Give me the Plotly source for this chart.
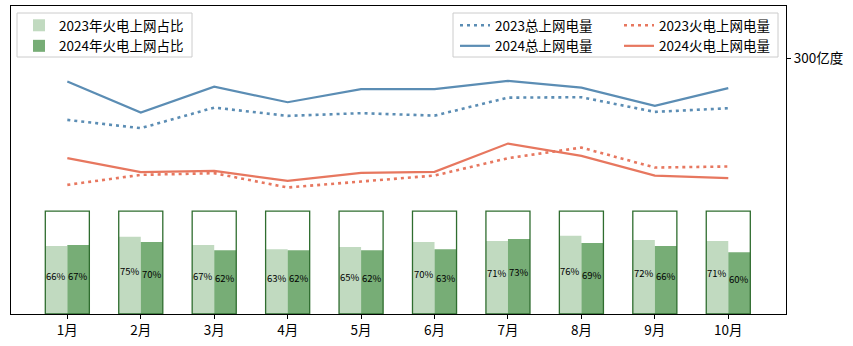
import plotly.graph_objects as go

months = ["1月", "2月", "3月", "4月", "5月", "6月", "7月", "8月", "9月", "10月"]
share_2023 = [66, 75, 67, 63, 65, 70, 71, 76, 72, 71]
share_2024 = [67, 70, 62, 62, 62, 63, 73, 69, 66, 60]
total_2023 = [227.7, 218.0, 242.1, 232.4, 235.6, 232.7, 253.8, 254.3, 237.1, 241.4]
total_2024 = [272.6, 236.3, 266.7, 248.4, 263.7, 263.7, 273.4, 265.6, 244.1, 264.9]
thermal_2023 = [151.5, 163.2, 165.2, 148.4, 155.4, 162.4, 182.8, 195.2, 171.8, 173.0]
thermal_2024 = [182.8, 166.4, 167.9, 156.2, 165.6, 166.8, 199.9, 185.5, 162.4, 159.4]
right_ticks = [300]
right_ticktext = ["300亿度"]

FONT = "Noto Sans CJK SC"
W, H = 853, 346
ML, MR, MT, MB = 11, 67, 6, 32
PW, PH = W - ML - MR, H - MT - MB

def px2x(px):
    return (px - ML) / PW

def px2y(py):
    return (H - MB - py) / PH

pos = list(range(len(months)))
LIGHT = "#c1dac0"
DARK = "#77ad76"
EDGE = "#2f6d2f"
BLUE = "#5b8db4"
RED = "#e7775f"

fig = go.Figure()

fig.add_trace(go.Bar(
    x=[p - 0.15 for p in pos], y=[v / 100 for v in share_2023], width=0.3,
    marker=dict(color=LIGHT, line=dict(width=0)), name="2023年火电上网占比",
    legend="legend", yaxis="y"))
fig.add_trace(go.Bar(
    x=[p + 0.15 for p in pos], y=[v / 100 for v in share_2024], width=0.3,
    marker=dict(color=DARK, line=dict(width=0)), name="2024年火电上网占比",
    legend="legend", yaxis="y"))
fig.add_trace(go.Bar(
    x=pos, y=[1] * len(pos), width=0.6,
    marker=dict(color="rgba(0,0,0,0)", line=dict(color=EDGE, width=1.3)),
    showlegend=False, yaxis="y", hoverinfo="skip"))

DOT = "3px,4px"
fig.add_trace(go.Scatter(x=pos, y=total_2023, mode="lines", name="2023总上网电量",
                         line=dict(color=BLUE, width=2.6, dash=DOT), yaxis="y2", legend="legend2"))
fig.add_trace(go.Scatter(x=pos, y=total_2024, mode="lines", name="2024总上网电量",
                         line=dict(color=BLUE, width=2.2), yaxis="y2", legend="legend2"))
fig.add_trace(go.Scatter(x=pos, y=thermal_2023, mode="lines", name="2023火电上网电量",
                         line=dict(color=RED, width=2.6, dash=DOT), yaxis="y2", legend="legend3"))
fig.add_trace(go.Scatter(x=pos, y=thermal_2024, mode="lines", name="2024火电上网电量",
                         line=dict(color=RED, width=2.2), yaxis="y2", legend="legend3"))

annotations = []
for i, p in enumerate(pos):
    for off, vals in ((-0.15, share_2023), (0.15, share_2024)):
        annotations.append(dict(
            x=p + off, y=vals[i] / 200, xref="x", yref="y", text=f"{vals[i]}%",
            showarrow=False, yanchor="middle", yshift=4,
            font=dict(family=FONT, size=9.5, color="black")))

LEG_FONT = dict(family=FONT, size=13.5)
fig.update_layout(
    width=W, height=H,
    margin=dict(l=ML, r=MR, t=MT, b=MB),
    paper_bgcolor="white", plot_bgcolor="white",
    barmode="overlay",
    font=dict(family=FONT, size=13.5, color="black"),
    annotations=annotations,
    xaxis=dict(range=[-0.767, 9.786], tickvals=pos, ticktext=months,
               ticks="outside", ticklen=4, tickcolor="black",
               showline=True, linecolor="black", linewidth=1.2, mirror=True,
               showgrid=False, zeroline=False, fixedrange=True),
    yaxis=dict(range=[0, 2.993], showticklabels=False, ticks="",
               showline=True, linecolor="black", linewidth=1.2, mirror=True,
               showgrid=False, zeroline=False),
    yaxis2=dict(range=[0, 361.3], overlaying="y", side="right",
                tickvals=right_ticks, ticktext=right_ticktext,
                ticks="outside", ticklen=4, tickcolor="black",
                showline=False, showgrid=False, zeroline=False),
    legend=dict(x=px2x(19), y=px2y(10), xanchor="left", yanchor="top",
                bgcolor="rgba(0,0,0,0)", borderwidth=0,
                font=LEG_FONT, tracegroupgap=0, itemwidth=30),
    legend2=dict(x=px2x(455), y=px2y(10), xanchor="left", yanchor="top",
                 bgcolor="rgba(0,0,0,0)", borderwidth=0,
                 font=LEG_FONT, itemwidth=30),
    legend3=dict(x=px2x(619), y=px2y(10), xanchor="left", yanchor="top",
                 bgcolor="rgba(0,0,0,0)", borderwidth=0,
                 font=LEG_FONT, itemwidth=30),
    shapes=[
        dict(type="rect", xref="paper", yref="paper",
             x0=px2x(17), x1=px2x(192), y0=px2y(57), y1=px2y(13),
             line=dict(color="#cccccc", width=1), fillcolor="white", layer="above"),
        dict(type="rect", xref="paper", yref="paper",
             x0=px2x(453), x1=px2x(778), y0=px2y(57), y1=px2y(13),
             line=dict(color="#cccccc", width=1), fillcolor="white", layer="above"),
    ],
    showlegend=True,
)

fig.write_html("out.html")
